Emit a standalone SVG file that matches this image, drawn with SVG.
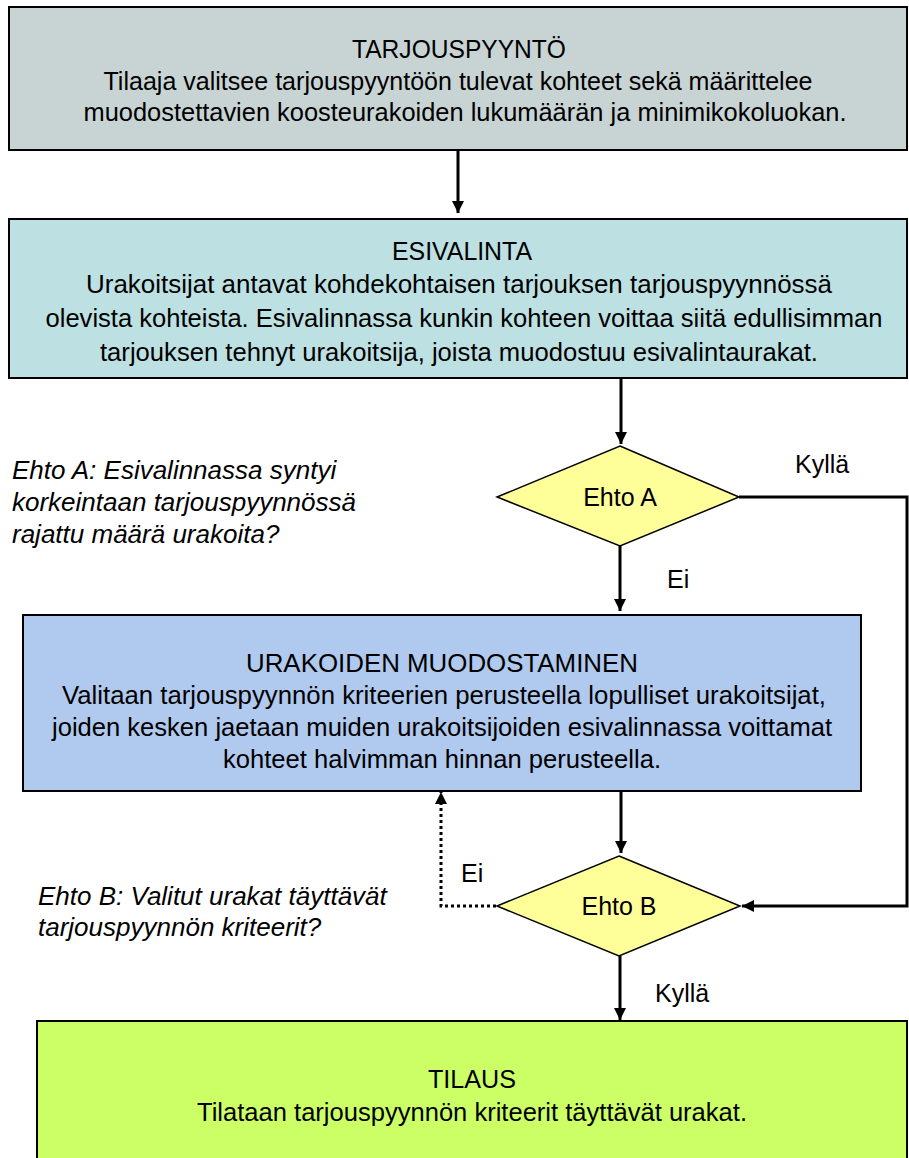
<svg xmlns="http://www.w3.org/2000/svg" width="909" height="1158" viewBox="0 0 909 1158">
<style>
.box{stroke:#000;stroke-width:2}
.bt{font-family:"Liberation Sans",Arial,sans-serif;font-size:26px;fill:#000;text-anchor:middle}
.lab{font-family:"Liberation Sans",Arial,sans-serif;font-size:25px;fill:#000}
.it{font-family:"Liberation Sans",Arial,sans-serif;font-size:26px;font-style:italic;fill:#000}
.dia{fill:#ffff99;stroke:#000;stroke-width:1.5}
.con{fill:none;stroke:#000;stroke-width:3}
.dot{fill:none;stroke:#000;stroke-width:3;stroke-dasharray:3 3}
</style>
<defs>
<marker id="ah" viewBox="0 0 10 10" refX="10" refY="5" markerWidth="4" markerHeight="4" markerUnits="strokeWidth" orient="auto">
<path d="M0,0 L10,5 L0,10 z" fill="#000"/>
</marker>
</defs>
<rect width="909" height="1158" fill="#fff"/>

<g id="tarjouspyynto">
<rect class="box" x="9" y="7" width="898" height="143" fill="#c8d4d4"/>
<text class="bt" x="459" y="58" textLength="214" lengthAdjust="spacingAndGlyphs">TARJOUSPYYNTÖ</text>
<text class="bt" x="458" y="90" textLength="709" lengthAdjust="spacingAndGlyphs">Tilaaja valitsee tarjouspyyntöön tulevat kohteet sekä määrittelee</text>
<text class="bt" x="465" y="121" textLength="763" lengthAdjust="spacingAndGlyphs">muodostettavien koosteurakoiden lukumäärän ja minimikokoluokan.</text>
</g>

<g id="esivalinta">
<rect class="box" x="9" y="219" width="898" height="159" fill="#bde0e2"/>
<text class="bt" x="462" y="260" textLength="140" lengthAdjust="spacingAndGlyphs">ESIVALINTA</text>
<text class="bt" x="459" y="293" textLength="746" lengthAdjust="spacingAndGlyphs">Urakoitsijat antavat kohdekohtaisen tarjouksen tarjouspyynnössä</text>
<text class="bt" x="464" y="327" textLength="837" lengthAdjust="spacingAndGlyphs">olevista kohteista. Esivalinnassa kunkin kohteen voittaa siitä edullisimman</text>
<text class="bt" x="459" y="361" textLength="718" lengthAdjust="spacingAndGlyphs">tarjouksen tehnyt urakoitsija, joista muodostuu esivalintaurakat.</text>
</g>

<g id="ehtoA">
<polygon class="dia" points="620,446 739,497 620,546 497,497"/>
<text class="lab" x="620" y="506" text-anchor="middle">Ehto A</text>
</g>

<g id="ehtoA-note">
<text class="it" x="12" y="479">Ehto A: Esivalinnassa syntyi</text>
<text class="it" x="12" y="511">korkeintaan tarjouspyynnössä</text>
<text class="it" x="12" y="543">rajattu määrä urakoita?</text>
</g>

<g id="muodostaminen">
<rect class="box" x="23" y="615" width="838" height="176" fill="#b0c9ee"/>
<text class="bt" x="442" y="672" textLength="392" lengthAdjust="spacingAndGlyphs">URAKOIDEN MUODOSTAMINEN</text>
<text class="bt" x="444" y="704" textLength="764" lengthAdjust="spacingAndGlyphs">Valitaan tarjouspyynnön kriteerien perusteella lopulliset urakoitsijat,</text>
<text class="bt" x="442" y="736" textLength="780" lengthAdjust="spacingAndGlyphs">joiden kesken jaetaan muiden urakoitsijoiden esivalinnassa voittamat</text>
<text class="bt" x="442" y="768" textLength="438" lengthAdjust="spacingAndGlyphs">kohteet halvimman hinnan perusteella.</text>
</g>

<g id="ehtoB">
<polygon class="dia" points="619,856 740,906 619,956 497,906"/>
<text class="lab" x="619" y="915" text-anchor="middle">Ehto B</text>
</g>

<g id="ehtoB-note">
<text class="it" x="38" y="905">Ehto B: Valitut urakat täyttävät</text>
<text class="it" x="38" y="936">tarjouspyynnön kriteerit?</text>
</g>

<g id="tilaus">
<rect class="box" x="37" y="1021" width="870" height="150" fill="#ccff66"/>
<text class="bt" x="472" y="1088" textLength="88" lengthAdjust="spacingAndGlyphs">TILAUS</text>
<text class="bt" x="472" y="1121" textLength="550" lengthAdjust="spacingAndGlyphs">Tilataan tarjouspyynnön kriteerit täyttävät urakat.</text>
</g>

<g id="connectors">
<line class="con" x1="458" y1="151" x2="458" y2="213" marker-end="url(#ah)"/>
<line class="con" x1="621" y1="379" x2="621" y2="444" marker-end="url(#ah)"/>
<polyline class="con" points="739,497 907,497 907,906 742,906" marker-end="url(#ah)"/>
<line class="con" x1="620" y1="546" x2="620" y2="611" marker-end="url(#ah)"/>
<line class="con" x1="621" y1="792" x2="621" y2="853" marker-end="url(#ah)"/>
<polyline class="dot" points="496,906 441,906 441,792" marker-end="url(#ah)"/>
<line class="con" x1="620" y1="956" x2="620" y2="1020" marker-end="url(#ah)"/>
<text class="lab" x="795" y="473">Kyllä</text>
<text class="lab" x="667" y="588">Ei</text>
<text class="lab" x="461" y="882">Ei</text>
<text class="lab" x="655" y="1002">Kyllä</text>
</g>
</svg>
